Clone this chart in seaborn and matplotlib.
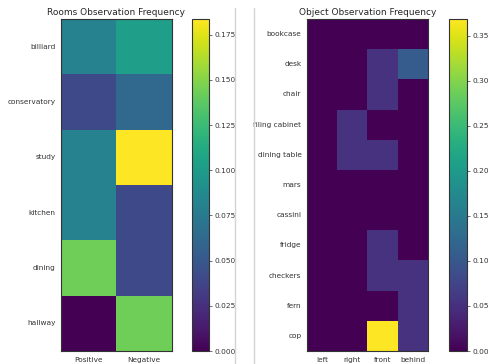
import numpy as np
import pandas as pd
import matplotlib
matplotlib.use("Agg")
import matplotlib.pyplot as plt
from matplotlib.lines import Line2D
import seaborn as sns

# Room observation counts, split by outcome
rooms = ["billiard", "conservatory", "study", "kitchen", "dining", "hallway"]
outcomes = ["Positive", "Negative"]
room_positive = [4, 2, 4, 4, 7, 0]
room_negative = [5, 3, 9, 2, 2, 7]

# Object observation counts, by spatial relation
objects = ["bookcase", "desk", "chair", "filing cabinet", "dining table",
           "mars", "cassini", "fridge", "checkers", "fern", "cop"]
relations = ["left", "right", "front", "behind"]
obj_left = [0, 0, 0, 0, 0, 0, 0, 0, 0, 0, 0]
obj_right = [0, 0, 0, 1, 1, 0, 0, 0, 0, 0, 0]
obj_front = [0, 1, 1, 0, 1, 0, 0, 1, 1, 0, 7]
obj_behind = [0, 2, 0, 0, 0, 0, 0, 0, 1, 1, 1]

sns.set_theme(style="white")
plt.rcParams["font.family"] = ["DejaVu Sans"]

room_df = pd.DataFrame({"Positive": room_positive, "Negative": room_negative},
                       index=rooms)[outcomes]
room_df = room_df / room_df.values.sum()

obj_df = pd.DataFrame({"left": obj_left, "right": obj_right,
                       "front": obj_front, "behind": obj_behind},
                      index=objects)[relations]
obj_df = obj_df / obj_df.values.sum()

W, H = 489, 364
fig = plt.figure(figsize=(W / 100, H / 100), dpi=100)


def box(x0, x1, y0, y1):
    return [x0 / W, 1 - y1 / H, (x1 - x0) / W, (y1 - y0) / H]


ax1 = fig.add_axes(box(61, 172, 19, 351))
cax1 = fig.add_axes(box(192, 209, 19, 351))
ax2 = fig.add_axes(box(307, 428, 19, 351))
cax2 = fig.add_axes(box(449, 467, 19, 351))

sns.heatmap(room_df, ax=ax1, cbar_ax=cax1, cmap="viridis", vmin=0)
sns.heatmap(obj_df, ax=ax2, cbar_ax=cax2, cmap="viridis", vmin=0)

cax1.set_yticks(np.arange(0, 0.176, 0.025))
cax2.set_yticks(np.arange(0, 0.351, 0.05))
cax1.yaxis.set_major_formatter(matplotlib.ticker.FormatStrFormatter("%.3f"))
cax2.yaxis.set_major_formatter(matplotlib.ticker.FormatStrFormatter("%.2f"))

ax1.set_title("Rooms Observation Frequency", fontsize=6.5, color="#262626", pad=3)
ax2.set_title("Object Observation Frequency", fontsize=6.5, color="#262626", pad=3)

for ax in (ax1, ax2):
    ax.set_xlabel("")
    ax.set_ylabel("")
    for s in ax.spines.values():
        s.set_visible(True)
        s.set_color("#333333")
        s.set_linewidth(0.8)
    ax.tick_params(axis="both", length=2.5, width=0.6, color="#555555",
                   labelsize=5.3, labelcolor="#333333", pad=1.5)
    ax.tick_params(axis="y", rotation=0)
    ax.tick_params(axis="x", rotation=0)

for ax, cax in ((ax1, cax1), (ax2, cax2)):
    cax.tick_params(length=2.5, width=0.6, color="#555555", labelsize=5.3,
                    labelcolor="#333333", pad=1.5)
    cb = ax.collections[0].colorbar
    cb.outline.set_visible(True)
    cb.outline.set_edgecolor("#333333")
    cb.outline.set_linewidth(0.8)

# Panel separators
for xp in (235.5, 254.5):
    fig.add_artist(Line2D([xp / W, xp / W], [0, 1 - 8 / H],
                          color="#d4d4d4", lw=1.0))

fig.savefig("out.png", dpi=100)
